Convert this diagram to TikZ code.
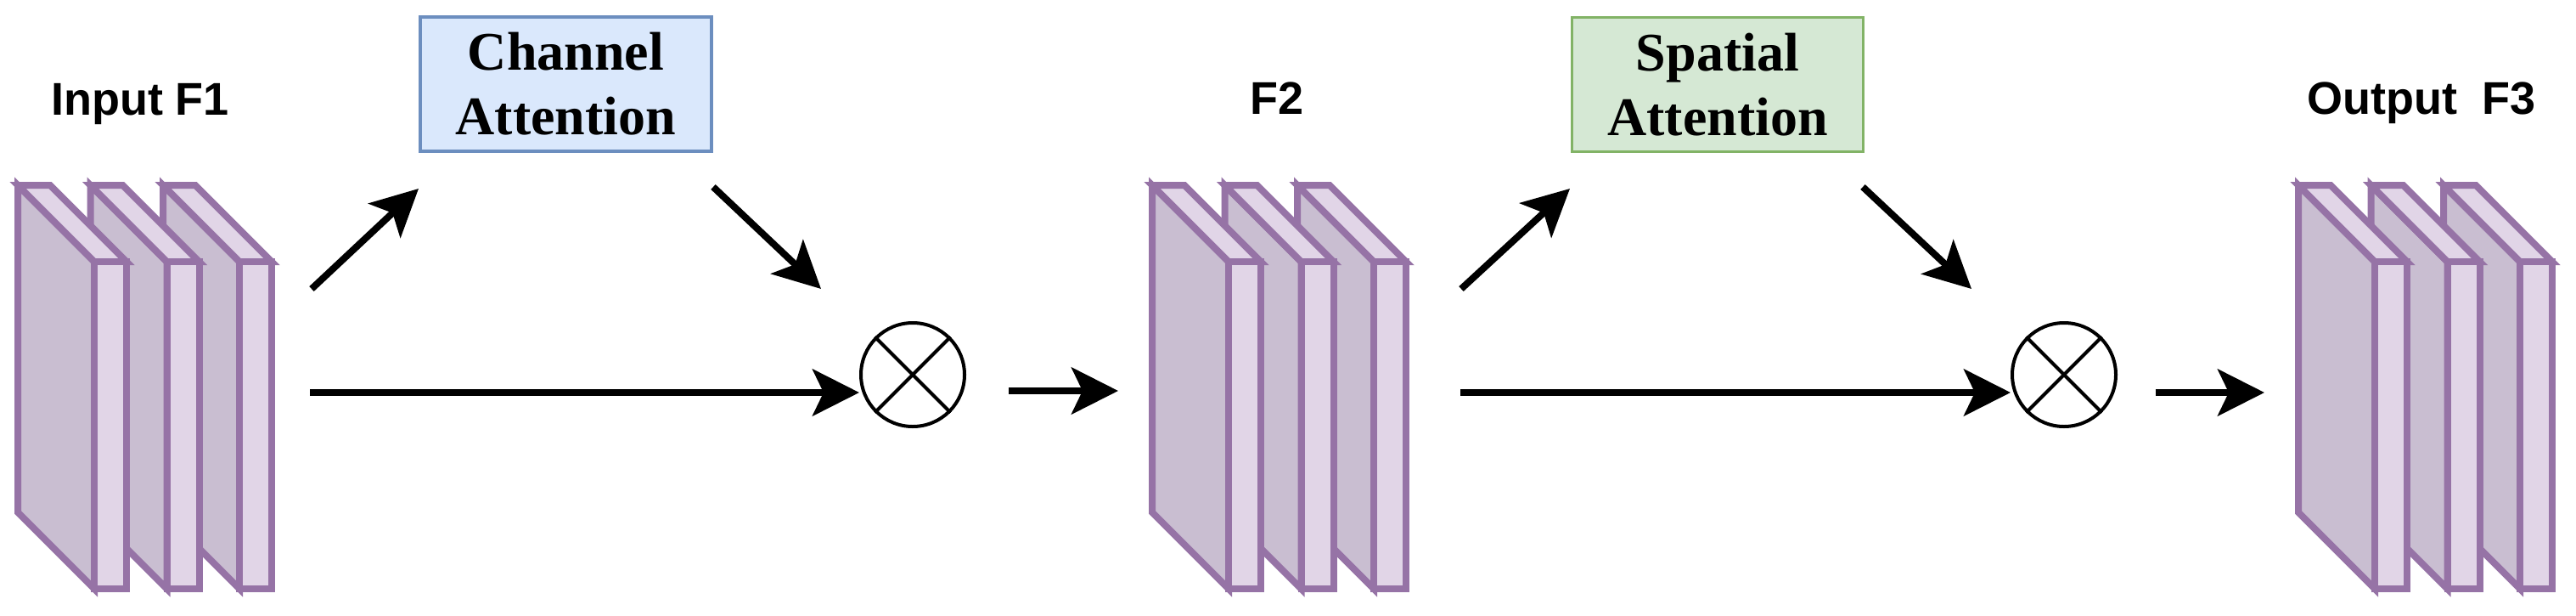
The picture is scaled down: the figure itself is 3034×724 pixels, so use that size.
\documentclass[tikz,border=0pt]{standalone}
\usepackage{fontspec}
\setmainfont{Liberation Serif}
\newfontfamily\arialf{Liberation Sans}
\usetikzlibrary{arrows.meta}
\definecolor{slabline}{HTML}{9673A6}
\definecolor{slablight}{HTML}{E1D5E7}
\definecolor{slabdark}{HTML}{C9BED1}
\definecolor{cafill}{HTML}{DAE8FC}
\definecolor{caline}{HTML}{6C8EBF}
\definecolor{safill}{HTML}{D5E8D4}
\definecolor{saline}{HTML}{82B366}
\tikzset{
  slabface/.style={draw=slabline, line width=8pt, line join=miter},
  lbl/.style={font=\arialf\bfseries\fontsize{54}{60}\selectfont, inner sep=0pt, anchor=base},
  attbox/.style={rectangle, line width=3.5pt, minimum width=343pt, minimum height=158pt,
    align=center, inner sep=0pt, font=\bfseries\fontsize{64}{76}\selectfont},
  cabox/.style={attbox, draw=caline, fill=cafill},
  sabox/.style={attbox, draw=saline, fill=safill},
  mul/.style={circle, draw=black, fill=white, line width=4pt, minimum size=122pt, inner sep=0pt},
  crossline/.style={line width=4pt},
  arr/.style={line width=8pt, -{Stealth[length=55pt,width=55pt,inset=13pt]}}
}
\newcommand{\myslab}[1]{%
  \begin{scope}[shift={(#1,218)}]
    \filldraw[slabface, fill=slabdark] (0,0) -- (90,90) -- (90,475) -- (0,385) -- cycle;
    \filldraw[slabface, fill=slablight] (0,0) -- (38,0) -- (128,90) -- (90,90) -- cycle;
    \filldraw[slabface, fill=slablight] (90,90) -- (128,90) -- (128,475) -- (90,475) -- cycle;
  \end{scope}}
\newcommand{\mystack}[1]{%
  \myslab{{#1+171}}\myslab{{#1+85.5}}\myslab{{#1}}}
\begin{document}
\begin{tikzpicture}[x=1pt,y=-1pt]
\useasboundingbox (0,0) rectangle (3034,724);
% feature map stacks
\mystack{21}
\mystack{1357}
\mystack{2707}
% labels
\node[lbl] (in) at (165,135) {Input F1};
\node[lbl] (f2) at (1504,134) {F2};
\node[lbl] (out) at (2852,134) {Output\ \ F3};
% attention boxes
\node[cabox] (ca) at (666.5,99) {Channel\\Attention};
\node[sabox] (sa) at (2023,99.5) {Spatial\\Attention};
% multiplication nodes
\node[mul] (m1) at (1075,441) {};
\node[mul] (m2) at (2431,441) {};
\draw[crossline] (m1.45) -- (m1.225) (m1.135) -- (m1.315);
\draw[crossline] (m2.45) -- (m2.225) (m2.135) -- (m2.315);
% connector end points
\coordinate (a1s) at (367,340);  \coordinate (a1e) at (493,222);
\coordinate (a2s) at (840,220);  \coordinate (a2e) at (967,340);
\coordinate (a3s) at (365,462);
\coordinate (a4s) at (1188,460); \coordinate (a4e) at (1317,460);
\coordinate (a5s) at (1721,340); \coordinate (a5e) at (1849,222);
\coordinate (a6s) at (2194,220); \coordinate (a6e) at (2322,340);
\coordinate (a7s) at (1720,462);
\coordinate (a8s) at (2539,462); \coordinate (a8e) at (2667,462);
% arrows
\draw[arr] (a1s) -- (a1e);
\draw[arr] (a2s) -- (a2e);
\draw[arr] (a3s) -- (a3s -| m1.west);
\draw[arr] (a4s) -- (a4e);
\draw[arr] (a5s) -- (a5e);
\draw[arr] (a6s) -- (a6e);
\draw[arr] (a7s) -- (a7s -| m2.west);
\draw[arr] (a8s) -- (a8e);
\end{tikzpicture}
\end{document}
